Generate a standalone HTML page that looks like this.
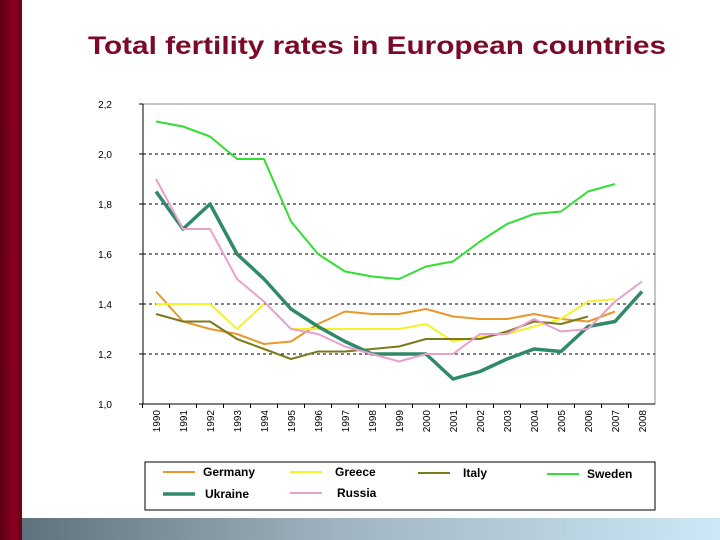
<!DOCTYPE html>
<html><head><meta charset="utf-8"><style>
body{margin:0;width:720px;height:540px;overflow:hidden;background:#fff;font-family:"Liberation Sans",sans-serif;position:relative}
#lbar{position:absolute;left:0;top:0;width:22px;height:540px;background:linear-gradient(90deg,#5a0010,#8b0020 60%,#6a0015)}
#bbar{position:absolute;left:22px;top:518px;width:698px;height:22px;background:linear-gradient(90deg,#5f717d,#9fb4c0 45%,#cde8f8)}
#title{position:absolute;left:88px;top:32px;font-size:25px;font-weight:bold;color:#7a0a28;white-space:nowrap;transform-origin:0 0;transform:scaleX(1.19)}
svg{position:absolute;left:0;top:0}
</style></head><body>
<div id="lbar"></div>
<div id="bbar"></div>
<div id="title">Total fertility rates in European countries</div>
<svg id="chart" width="720" height="540"></svg>
<script>
const years=[1990,1991,1992,1993,1994,1995,1996,1997,1998,1999,2000,2001,2002,2003,2004,2005,2006,2007,2008];
const yTicks=[1.0,1.2,1.4,1.6,1.8,2.0,2.2];
const germany=[1.45,1.33,1.30,1.28,1.24,1.25,1.32,1.37,1.36,1.36,1.38,1.35,1.34,1.34,1.36,1.34,1.33,1.37,null];
const greece=[1.40,1.40,1.40,1.30,1.40,1.30,1.30,1.30,1.30,1.30,1.32,1.25,1.27,1.28,1.31,1.34,1.41,1.42,null];
const italy=[1.36,1.33,1.33,1.26,1.22,1.18,1.21,1.21,1.22,1.23,1.26,1.26,1.26,1.29,1.33,1.32,1.35,null,null];
const sweden=[2.13,2.11,2.07,1.98,1.98,1.73,1.60,1.53,1.51,1.50,1.55,1.57,1.65,1.72,1.76,1.77,1.85,1.88,null];
const ukraine=[1.85,1.70,1.80,1.60,1.50,1.38,1.31,1.25,1.20,1.20,1.20,1.10,1.13,1.18,1.22,1.21,1.31,1.33,1.45];
const russia=[1.90,1.70,1.70,1.50,1.41,1.30,1.28,1.23,1.20,1.17,1.20,1.20,1.28,1.28,1.34,1.29,1.30,1.41,1.49];
const series=[
 {name:"Germany",vals:germany,color:"#e8982c",w:2,gap:-1},
 {name:"Greece",vals:greece,color:"#f2f22e",w:2,gap:4},
 {name:"Italy",vals:italy,color:"#7d7a1c",w:2,gap:-1},
 {name:"Sweden",vals:sweden,color:"#33dd33",w:2,gap:-1},
 {name:"Ukraine",vals:ukraine,color:"#2f8a68",w:3.5,gap:-1},
 {name:"Russia",vals:russia,color:"#e8a0cc",w:2,gap:-1}];
const NS="http://www.w3.org/2000/svg";
const svg=document.getElementById('chart');
const L=143,R=655,T=104,B=404;
const x=i=>156+i*(642-156)/(years.length-1);
const y=v=>B-(v-1.0)/(1.2)*(B-T);
function mk(t,a,p){const e=document.createElementNS(NS,t);for(const k in a)e.setAttribute(k,a[k]);(p||svg).appendChild(e);return e;}
mk('rect',{x:L,y:T,width:R-L,height:B-T,fill:'none',stroke:'#888','stroke-width':1});
yTicks.forEach(v=>{
 if(v>1.0&&v<2.2){const g=mk('line',{x1:L,x2:R,y1:y(v),y2:y(v),stroke:'#000','stroke-dasharray':'3,3','stroke-width':1});
 
 }
 const t=mk('text',{x:112,y:y(v)+4,'text-anchor':'end','font-size':10,fill:'#000'});
 t.textContent=v.toFixed(1).replace('.',',');
 
 
 mk('line',{x1:L-4,x2:L,y1:y(v),y2:y(v),stroke:'#000'});
});
mk('line',{x1:L,x2:L,y1:T,y2:B,stroke:'#000'});
mk('line',{x1:L,x2:R,y1:B,y2:B,stroke:'#000'});
years.forEach((yr,i)=>{
 const tx=x(i)-13.5;
 mk('line',{x1:tx,x2:tx,y1:B,y2:B+4,stroke:'#000'});
 const t=mk('text',{x:0,y:0,'font-size':10,'text-anchor':'end',transform:`translate(${x(i)+4},${B+6}) rotate(-90)`});
 t.textContent=yr;
 
 
});
series.forEach(s=>{
 let d='',pen=false;
 s.vals.forEach((v,i)=>{
  if(v==null){pen=false;return;}
  d+=(pen?'L':'M')+x(i).toFixed(1)+','+y(v).toFixed(1);
  pen=(i!==s.gap);
 });
 const p=mk('path',{d:d,fill:'none',stroke:s.color,'stroke-width':s.w,'stroke-linejoin':'round'});
 
 
});
const lg=mk('rect',{x:145,y:462,width:510,height:48,fill:'#fff',stroke:'#000','stroke-width':1});


const pos=[[163,472,203],[290,472,335],[418,473,463],[547,474,587],[163,494,205],[290,493,337]];
series.forEach((s,i)=>{
 const [lx,ly,tx]=pos[i];
 mk('line',{x1:lx,x2:lx+32,y1:ly,y2:ly,stroke:s.color,'stroke-width':s.w});
 const t=mk('text',{x:tx,y:ly+4,'font-size':12,'font-weight':'bold',fill:'#000'});
 t.textContent=s.name;
 
 
});
</script>
</body></html>
